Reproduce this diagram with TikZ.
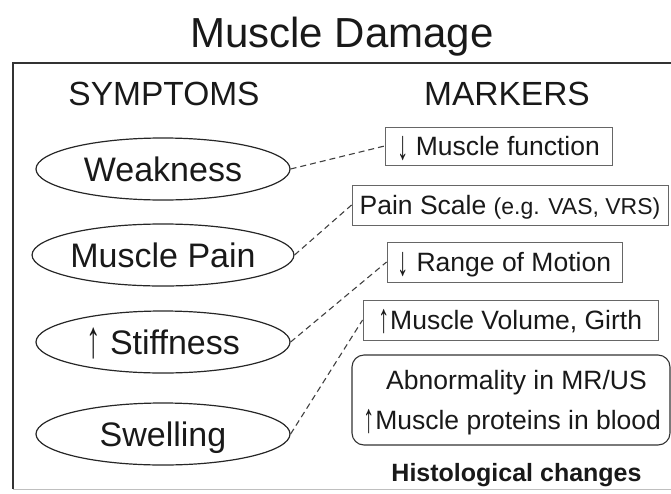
\documentclass[tikz,border=0pt]{standalone}
\usepackage{fontspec}
\usepackage{graphicx}
\setmainfont{Liberation Sans}
\usetikzlibrary{shapes.geometric}
\newcommand{\myDn}{\raisebox{-4pt}{\scalebox{0.85}[1.55]{↓}}}
\newcommand{\myUp}{\raisebox{-3pt}{\scalebox{0.85}[1.55]{↑}}}
\begin{document}
\begin{tikzpicture}[x=1pt,y=-1pt,
  symp/.style={ellipse, draw=black!85, line width=1.2pt, minimum width=254pt, minimum height=62pt, inner sep=0pt, font=\fontsize{34}{40}\selectfont, text height=24pt, text depth=0pt, text=black!90},
  markbox/.style={rectangle, draw=black!60, line width=0.9pt, inner sep=0pt, font=\fontsize{26.5}{30}\selectfont, text height=19pt, text depth=0pt, text=black!90},
  link/.style={dash pattern=on 6pt off 4pt, line width=1.1pt, draw=black!75},
  hdr/.style={font=\fontsize{33.5}{40}\selectfont, text=black!90, inner sep=0pt, anchor=base},
  plain/.style={font=\fontsize{26.5}{30}\selectfont, text=black!90, inner sep=0pt, text height=19pt, text depth=0pt}
]
\useasboundingbox (0,0) rectangle (671,493);
\begin{scope}
\clip (0,0) rectangle (671,493);
\draw[line width=2pt, black!80] (700,63) -- (13,63) -- (13,489);
\draw[line width=1pt, black!25] (13,489) -- (700,489);
\end{scope}

\node[hdr, font=\fontsize{42}{48}\selectfont] (title) at (342,47) {Muscle Damage};
\node[hdr] (symptoms) at (164,105) {SYMPTOMS};
\node[hdr] (markers) at (507,105) {MARKERS};

\node[symp] (weak) at (163,169) {Weakness};
\node[symp] (pain) at (163,255) {Muscle Pain};
\node[symp] (stiff) at (163,342) {\myUp\ Stiffness};
\node[symp] (swell) at (163,434) {Swelling};

\node[markbox, minimum width=227pt, minimum height=38pt] (func) at (498.5,146) {\myDn\ Muscle function};
\node[markbox, minimum width=316pt, minimum height=40pt] (scale) at (510,205) {Pain Scale {\fontsize{23}{28}\selectfont (e.g. VAS, VRS)}};
\node[markbox, minimum width=235pt, minimum height=40pt] (rom) at (504.5,262) {\myDn\ Range of Motion};
\node[markbox, minimum width=295pt, minimum height=40pt] (vol) at (510.5,320) {\myUp Muscle Volume, Girth};

\node[draw=black!80, line width=1.1pt, rounded corners=12pt, minimum width=318pt, minimum height=90pt, inner sep=0pt] (lab) at (511,400) {};
\node[plain] (mrus) at (516.5,380) {Abnormality in MR/US};
\node[plain] (blood) at (512.5,420) {\myUp Muscle proteins in blood};
\node[plain, font=\bfseries\fontsize{25}{30}\selectfont] (histo) at (516.5,472) {Histological changes};

\draw[link] (weak.east) -- (func.west);
\draw[link] (pain.east) -- (scale.west);
\draw[link] (stiff.east) -- (rom.west);
\draw[link] (swell.east) -- (vol.west);
\end{tikzpicture}
\end{document}
